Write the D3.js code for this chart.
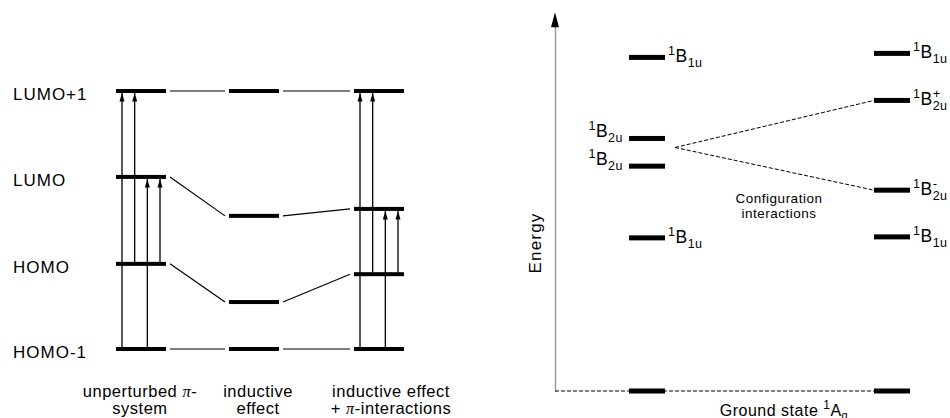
<!DOCTYPE html>
<html>
<head>
<meta charset="utf-8">
<script src="https://cdn.jsdelivr.net/npm/d3@7"></script>
<style>
  body { margin: 0; background: #fff; }
  text { font-family: "Liberation Sans", Arial, sans-serif; fill: #000; }
</style>
</head>
<body>
<svg id="chart" width="950" height="418"></svg>
<script>
// left panel: orbital energies (arbitrary units, HOMO-1 = 0, LUMO+1 = 10)
const orbitals = ["HOMO-1", "HOMO", "LUMO", "LUMO+1"];
const stages = ["unperturbed", "inductive", "inductivePi"];
const unperturbedE = [0, 3.3, 6.67, 10];
const inductiveE = [0, 1.82, 5.16, 10];
const interactionE = [0, 2.9, 5.43, 10];
const stageEnergies = [unperturbedE, inductiveE, interactionE];
const transitions = [["HOMO-1", "LUMO+1"], ["HOMO", "LUMO+1"], ["HOMO-1", "LUMO"], ["HOMO", "LUMO"]];
const arrowStages = ["unperturbed", "inductivePi"];

// right panel: state energies (ground state = 0)
const stateCols = ["before", "after"];
const beforeSub = ["1u", "2u", "2u", "1u"];
const beforeE = [10.0, 7.57, 6.74, 4.59];
const afterSub = ["1u", "2u", "2u", "1u"];
const afterSign = ["", "+", "-", ""];
const afterE = [10.12, 8.71, 6.02, 4.62];
const groundE = 0;
const ciOrigin = 7.3;
const axisTop = 11.35;

const svg = d3.select('#chart');

// ---------- left panel ----------
const yL = d3.scaleLinear().domain([0, 10]).range([349, 91]);
const xL = d3.scaleOrdinal().domain(stages).range([141, 254, 379]);
const labelX = d3.scaleOrdinal().domain(stages).range([140, 258, 391]);
const halfW = 25;

const levels = stages.flatMap((s, i) => orbitals.map((o, j) => ({ stage: s, orbital: o, e: stageEnergies[i][j] })));
const energyOf = (s, o) => stageEnergies[stages.indexOf(s)][orbitals.indexOf(o)];

svg.append('defs').append('marker')
  .attr('id', 'head')
  .attr('viewBox', '-9 -3 10 6')
  .attr('markerUnits', 'userSpaceOnUse')
  .attr('markerWidth', 10)
  .attr('markerHeight', 6)
  .attr('refX', 0)
  .attr('refY', 0)
  .attr('orient', 'auto')
  .append('path')
  .attr('d', 'M0,0L-8.5,-2.5L-8.5,2.5Z')
  .attr('fill', '#000');

// connectors between stages
const connectors = [];
orbitals.forEach(o => {
  for (let i = 0; i < stages.length - 1; i++) {
    connectors.push({ a: stages[i], b: stages[i + 1], ea: energyOf(stages[i], o), eb: energyOf(stages[i + 1], o) });
  }
});
svg.append('g').selectAll('line')
  .data(connectors)
  .enter()
  .append('line')
  .attr('x1', d => xL(d.a) + halfW + 4)
  .attr('y1', d => yL(d.ea))
  .attr('x2', d => xL(d.b) - halfW - 4)
  .attr('y2', d => yL(d.eb))
  .attr('stroke', '#000')
  .attr('stroke-width', 1.2);

// transition arrows
const arrowX = d3.scalePoint().domain(d3.range(transitions.length)).range([6, 44]);
const arrows = arrowStages.flatMap(s => transitions.map((t, k) => ({ stage: s, k, from: energyOf(s, t[0]), to: energyOf(s, t[1]) })));
svg.append('g').selectAll('line')
  .data(arrows)
  .enter()
  .append('line')
  .attr('x1', d => xL(d.stage) - halfW + arrowX(d.k))
  .attr('x2', d => xL(d.stage) - halfW + arrowX(d.k))
  .attr('y1', d => yL(d.from))
  .attr('y2', d => yL(d.to) + 2)
  .attr('stroke', '#000')
  .attr('stroke-width', 1.3)
  .attr('marker-end', 'url(#head)');

// levels
svg.append('g').selectAll('rect')
  .data(levels)
  .enter()
  .append('rect')
  .attr('x', d => xL(d.stage) - halfW)
  .attr('y', d => yL(d.e) - 2)
  .attr('width', halfW * 2)
  .attr('height', 4)
  .attr('fill', '#000');

// orbital names
svg.append('g').selectAll('text')
  .data(orbitals)
  .enter()
  .append('text')
  .attr('x', 13)
  .attr('y', (d, j) => yL(unperturbedE[j]) + 9)
  .attr('font-size', 17)
  .attr('letter-spacing', 1)
  .text(d => d);

// stage captions
const captions = [
  [["unperturbed "], ["π", true], ["-"]],
  [["inductive"]],
  [["inductive effect"]]
];
const captions2 = [
  [["system"]],
  [["effect"]],
  [["+ "], ["π", true], ["-interactions"]]
];
function caption(parts, x, y) {
  const t = svg.append('text').attr('x', x).attr('y', y)
    .attr('text-anchor', 'middle').attr('font-size', 16.5).attr('letter-spacing', 0.5);
  parts.forEach(p => {
    const ts = t.append('tspan').text(p[0]);
    if (p[1]) ts.attr('font-style', 'italic').style('font-family', '"Liberation Serif", serif');
  });
}
stages.forEach((s, i) => {
  caption(captions[i], labelX(s), 397);
  caption(captions2[i], labelX(s), 414);
});

// ---------- right panel ----------
const yR = d3.scaleLinear().domain([0, 10]).range([391, 57.4]);
const xR = d3.scalePoint().domain(stateCols).range([647, 892]);
const lw = 18;
const axisX = 555;

const yAxisScale = d3.scaleLinear().domain([0, axisTop]).range([yR(0), yR(axisTop) + 14]);
const axisG = svg.append('g')
  .attr('transform', `translate(${axisX},0)`)
  .call(d3.axisLeft(yAxisScale).tickValues([]).tickSizeOuter(0));
axisG.select('.domain').attr('stroke', '#999').attr('stroke-width', 1.5);
svg.append('path')
  .attr('d', `M${axisX},${yR(axisTop)}L${axisX - 4},${yR(axisTop) + 15}L${axisX + 4},${yR(axisTop) + 15}Z`)
  .attr('fill', '#000');

svg.append('text')
  .attr('transform', `translate(541,243) rotate(-90)`)
  .attr('text-anchor', 'middle')
  .attr('font-size', 17)
  .attr('letter-spacing', 1.2)
  .text('Energy');

// ground-state dashed baseline
svg.append('line')
  .attr('x1', axisX)
  .attr('x2', xR('after') + lw)
  .attr('y1', yR(groundE))
  .attr('y2', yR(groundE))
  .attr('stroke', '#000')
  .attr('stroke-width', 1)
  .attr('stroke-dasharray', '4,2');

// configuration interaction dashed lines
const ciTargets = afterSign.map((s, i) => ({ s, e: afterE[i] })).filter(d => d.s);
svg.append('g').selectAll('line')
  .data(ciTargets)
  .enter()
  .append('line')
  .attr('x1', xR('before') + lw + 10)
  .attr('y1', yR(ciOrigin))
  .attr('x2', xR('after') - lw)
  .attr('y2', d => yR(d.e))
  .attr('stroke', '#000')
  .attr('stroke-width', 1)
  .attr('stroke-dasharray', '4,2');

const states = [
  ...beforeE.map((e, i) => ({ col: 'before', e, sub: beforeSub[i], sign: '' })),
  ...afterE.map((e, i) => ({ col: 'after', e, sub: afterSub[i], sign: afterSign[i] })),
  { col: 'before', e: groundE, sub: null },
  { col: 'after', e: groundE, sub: null }
];
svg.append('g').selectAll('rect')
  .data(states)
  .enter()
  .append('rect')
  .attr('x', d => xR(d.col) - lw)
  .attr('y', d => yR(d.e) - 2.5)
  .attr('width', lw * 2)
  .attr('height', 5)
  .attr('fill', '#000');

function stateLabel(d) {
  const leftSide = d.col === 'before' && d.sub === '2u';
  const x = leftSide ? xR(d.col) - lw - 6 : xR(d.col) + lw + 3;
  const y = leftSide ? yR(d.e) - 1 : yR(d.e) + 5;
  const t = svg.append('text')
    .attr('x', x).attr('y', y)
    .attr('font-size', 17.5)
    .attr('letter-spacing', 0.5)
    .attr('text-anchor', leftSide ? 'end' : 'start');
  t.append('tspan').attr('font-size', 12.5).attr('dy', -7).text('1');
  t.append('tspan').attr('dy', 7).text('B');
  if (d.sign) {
    const sp = t.append('tspan').attr('font-size', 13).attr('dy', -7).text(d.sign);
    const w = sp.node().getComputedTextLength();
    t.append('tspan').attr('font-size', 12.5).attr('dx', -w).attr('dy', 12).text(d.sub);
  } else {
    t.append('tspan').attr('font-size', 12.5).attr('dy', 5).text(d.sub);
  }
}
states.filter(d => d.sub).forEach(stateLabel);

svg.append('text')
  .attr('x', 779).attr('y', 203)
  .attr('text-anchor', 'middle')
  .attr('font-size', 13.5)
  .attr('letter-spacing', 0.5)
  .text('Configuration');
svg.append('text')
  .attr('x', 779).attr('y', 218)
  .attr('text-anchor', 'middle')
  .attr('font-size', 13.5)
  .attr('letter-spacing', 0.5)
  .text('interactions');

const gs = svg.append('text')
  .attr('x', 784).attr('y', 415.5)
  .attr('text-anchor', 'middle')
  .attr('font-size', 16)
  .attr('letter-spacing', 0.5);
gs.append('tspan').text('Ground state ');
gs.append('tspan').attr('font-size', 12).attr('dy', -7).text('1');
gs.append('tspan').attr('dy', 7).text('A');
gs.append('tspan').attr('font-size', 11).attr('dy', 3).text('g');
</script>
</body>
</html>
